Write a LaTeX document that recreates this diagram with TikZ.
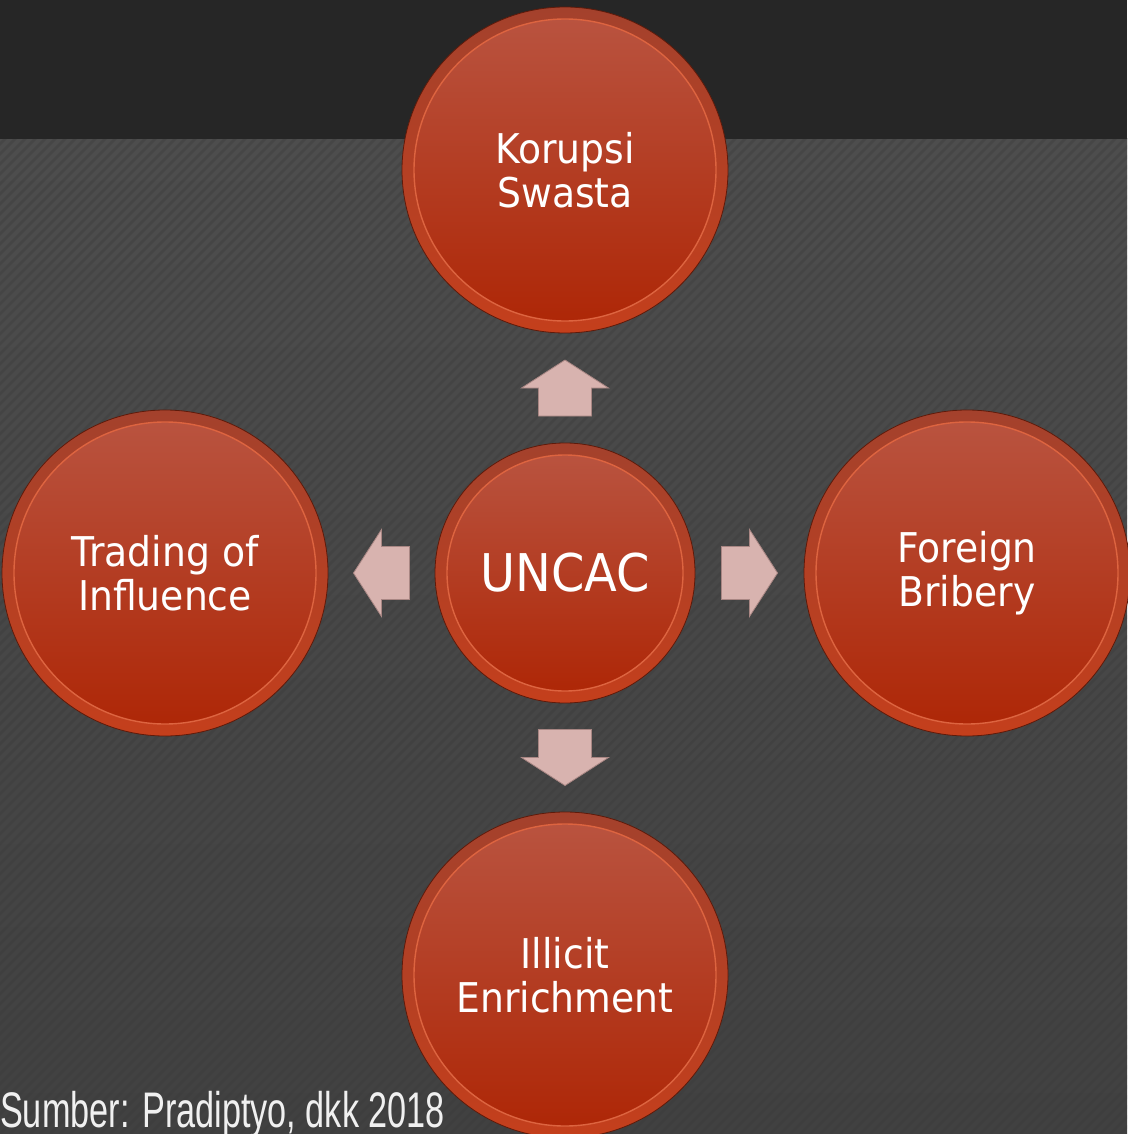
\documentclass[tikz,border=0pt]{standalone}
\usepackage{fontspec}
\usetikzlibrary{calc}
\newfontfamily\discfont[FakeStretch=0.92]{DejaVu Sans}
\newfontfamily\footfont{Liberation Sans}
\definecolor{band}{HTML}{262626}
\definecolor{bgTop}{HTML}{4D4D4D}
\definecolor{bgBot}{HTML}{414141}
\definecolor{stripe}{HTML}{3A3A3A}
\definecolor{ballTop}{HTML}{B9533F}
\definecolor{ballBot}{HTML}{AE2707}
\definecolor{ballEdge}{HTML}{DD6440}
\definecolor{rimTop}{HTML}{A4412C}
\definecolor{rimBot}{HTML}{C43F1C}
\definecolor{rimDark}{HTML}{5E1A0A}
\definecolor{arrowFill}{HTML}{D8B3AF}
\definecolor{arrowEdge}{HTML}{A88683}
\tikzset{
  ball/.style={circle, inner sep=0pt, text=white, align=center,
    top color=ballTop, bottom color=ballBot, draw=ballEdge, line width=1.4pt},
  bigball/.style={ball, minimum size=302pt, font=\discfont\fontsize{41}{44}\selectfont},
  midball/.style={ball, minimum size=236pt, font=\discfont\fontsize{52}{56}\selectfont},
  rim/.style={top color=rimTop, bottom color=rimBot, draw=rimDark, line width=0.8pt},
  barrow/.style={fill=arrowFill, draw=arrowEdge, line width=0.8pt, line join=miter}
}
\newcommand\blockarrow[2]{%
  \begin{scope}[shift={#1}, rotate=#2]
    \filldraw[barrow] (-28pt,-26.5pt) -- (0pt,-26.5pt) -- (0pt,-43.5pt) -- (28pt,0pt)
      -- (0pt,43.5pt) -- (0pt,26.5pt) -- (-28pt,26.5pt) -- cycle;
  \end{scope}}
\begin{document}
\begin{tikzpicture}[x=1pt, y=-1pt]
\useasboundingbox (0,0) rectangle (1127,1134);
% background
\shade[top color=bgTop, bottom color=bgBot] (0,139) rectangle (1127,1134);
\begin{scope}
  \clip (0,139) rectangle (1127,1134);
  \foreach \k in {-1000,-990,...,1130}
    \draw[stripe, line width=2.5pt, opacity=0.35] (\k,1134) -- ({\k+1000},134);
\end{scope}
\fill[band] (0,0) rectangle (1127,139);
% centres
\coordinate (cT) at (565,170);
\coordinate (cC) at (565,573);
\coordinate (cL) at (165,573);
\coordinate (cR) at (967,573);
\coordinate (cB) at (565,975);
% rims
\shadedraw[rim] (cT) circle [radius=163pt];
\shadedraw[rim] (cL) circle [radius=163pt];
\shadedraw[rim] (cR) circle [radius=163pt];
\shadedraw[rim] (cB) circle [radius=163pt];
\shadedraw[rim] (cC) circle [radius=130pt];
% discs
\node[bigball] (top) at (cT) {Korupsi\\Swasta};
\node[bigball] (left) at (cL) {Trading of\\Influence};
\node[bigball] (right) at (cR) {Foreign\\Bribery};
\node[bigball] (bottom) at (cB) {Illicit\\Enrichment};
\node[midball] (uncac) at (cC) {UNCAC};
% arrows
\blockarrow{($(uncac.north)!0.5!(top.south)$)}{90}
\blockarrow{($(uncac.west)!0.5!(left.east)$)}{180}
\blockarrow{($(uncac.east)!0.5!(right.west)$)}{0}
\blockarrow{($(uncac.south)!0.5!(bottom.north)$)}{-90}
% source
\node[font=\footfont\fontsize{50}{54}\selectfont, text=white!94!black,
  anchor=base west, inner sep=0pt, xscale=0.685] (src) at (0,1127)
  {Sumber: Pradiptyo, dkk 2018};
\end{tikzpicture}
\end{document}
